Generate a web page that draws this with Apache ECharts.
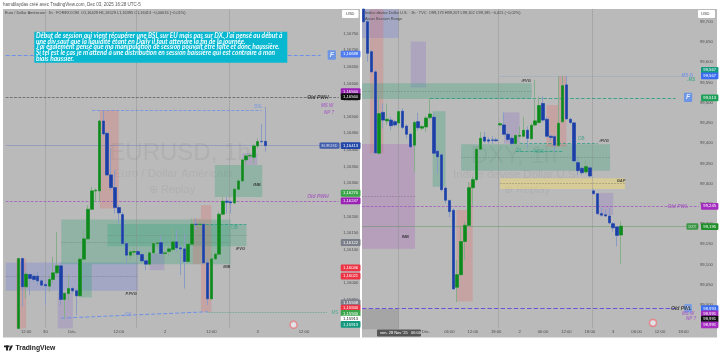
<!DOCTYPE html>
<html><head><meta charset="utf-8">
<style>html,body{margin:0;padding:0;background:#fff}#c{width:720px;height:357px;filter:blur(.4px)}</style>
<script src="https://cdn.jsdelivr.net/npm/echarts@6/dist/echarts.min.js"></script>
</head><body><div id="c"></div>
<script>
// [open, close, low, high]
const eurCandles=[[1.15864,1.16074,1.15862,1.16076],[1.16074,1.15989,1.15929,1.16076],[1.15989,1.16027,1.15954,1.16034],[1.16026,1.16014,1.15964,1.16029],[1.16021,1.16011,1.16004,1.16027],[1.16021,1.16007,1.15994,1.16034],[1.16007,1.15994,1.15989,1.16014],[1.15996,1.15992,1.15934,1.16004],[1.15991,1.16011,1.15974,1.16019],[1.16011,1.16031,1.15999,1.16079],[1.16031,1.16052,1.16024,1.16154],[1.16052,1.15951,1.15934,1.16061],[1.15951,1.15969,1.15894,1.15974],[1.15969,1.15984,1.15949,1.16024],[1.15984,1.15977,1.15969,1.15989],[1.15977,1.15962,1.15904,1.15984],[1.15962,1.16072,1.15959,1.16079],[1.16072,1.16133,1.16069,1.16159],[1.16133,1.16222,1.16129,1.16234],[1.16222,1.16277,1.16219,1.16289],[1.16277,1.16279,1.16244,1.16284],[1.16277,1.16487,1.16244,1.16489],[1.16487,1.16448,1.16444,1.1652],[1.1645,1.16325,1.16321,1.16454],[1.16325,1.16287,1.16279,1.16405],[1.16287,1.16227,1.16209,1.1634],[1.16227,1.16211,1.16179,1.16234],[1.16206,1.16119,1.16114,1.16214],[1.16119,1.16084,1.16064,1.16124],[1.16084,1.16094,1.16069,1.16099],[1.16093,1.16095,1.16079,1.16109],[1.16095,1.16086,1.16074,1.16099],[1.16086,1.16067,1.16064,1.16091],[1.16067,1.16057,1.16039,1.16071],[1.16057,1.16091,1.16054,1.16094],[1.16091,1.16119,1.16087,1.16124],[1.16119,1.16121,1.16104,1.16127],[1.16122,1.16089,1.16079,1.16141],[1.16089,1.16091,1.16074,1.16099],[1.16095,1.16103,1.16079,1.16114],[1.16101,1.16124,1.16094,1.16164],[1.16124,1.16106,1.16094,1.16159],[1.16106,1.16103,1.16024,1.16114],[1.16103,1.16065,1.15984,1.16149],[1.16065,1.16117,1.16061,1.16129],[1.16117,1.16177,1.16114,1.16194],[1.16177,1.16176,1.16159,1.16194],[1.16176,1.16177,1.16169,1.16184],[1.16177,1.16061,1.16057,1.16179],[1.16061,1.15953,1.15934,1.16074],[1.15953,1.16073,1.15949,1.16094],[1.16073,1.16087,1.16069,1.16094],[1.16087,1.16207,1.16084,1.16214],[1.16207,1.16246,1.16204,1.16259],[1.16246,1.16243,1.16209,1.16259],[1.16244,1.16241,1.16209,1.16249],[1.16241,1.16282,1.16239,1.16289],[1.16282,1.16307,1.16279,1.16314],[1.16307,1.1637,1.16304,1.16374],[1.1637,1.16382,1.16355,1.16386],[1.16382,1.16383,1.16375,1.1639],[1.16378,1.16412,1.1636,1.16418],[1.16412,1.16425,1.16405,1.16435],[1.16426,1.16425,1.1642,1.16478],[1.16426,1.16413,1.16395,1.16529]];
const dxyCandles=[[99.731,99.7,99.696,99.731],[99.7,99.622,99.601,99.704],[99.626,99.576,99.574,99.63],[99.576,99.376,99.375,99.581],[99.375,99.473,99.373,99.515],[99.476,99.457,99.436,99.498],[99.455,99.459,99.445,99.498],[99.457,99.443,99.432,99.465],[99.453,99.445,99.441,99.457],[99.45,99.478,99.436,99.482],[99.479,99.439,99.434,99.486],[99.442,99.422,99.412,99.447],[99.422,99.391,99.387,99.426],[99.395,99.451,99.329,99.455],[99.453,99.438,99.431,99.475],[99.437,99.441,99.432,99.445],[99.44,99.462,99.428,99.467],[99.463,99.472,99.459,99.513],[99.464,99.375,99.373,99.474],[99.38,99.366,99.325,99.385],[99.371,99.285,99.281,99.375],[99.289,99.259,99.251,99.292],[99.258,99.231,99.217,99.261],[99.234,99.04,99.037,99.239],[99.044,99.075,99.007,99.111],[99.075,99.157,99.072,99.193],[99.157,99.197,99.111,99.206],[99.197,99.29,99.193,99.304],[99.29,99.31,99.247,99.317],[99.31,99.385,99.306,99.391],[99.385,99.412,99.383,99.428],[99.415,99.405,99.401,99.428],[99.408,99.405,99.399,99.414],[99.408,99.407,99.398,99.417],[99.408,99.406,99.404,99.413],[99.445,99.448,99.444,99.451],[99.445,99.422,99.42,99.476],[99.422,99.409,99.406,99.426],[99.412,99.399,99.395,99.416],[99.399,99.419,99.395,99.422],[99.417,99.419,99.414,99.441],[99.417,99.432,99.414,99.465],[99.432,99.412,99.387,99.441],[99.411,99.444,99.408,99.449],[99.445,99.455,99.441,99.556],[99.451,99.493,99.447,99.515],[99.498,99.457,99.453,99.515],[99.459,99.417,99.414,99.465],[99.417,99.414,99.406,99.421],[99.416,99.395,99.379,99.42],[99.394,99.449,99.391,99.566],[99.453,99.542,99.45,99.566],[99.544,99.46,99.457,99.566],[99.459,99.451,99.447,99.463],[99.45,99.356,99.352,99.453],[99.352,99.332,99.321,99.366],[99.338,99.327,99.321,99.342],[99.329,99.342,99.324,99.358],[99.339,99.319,99.315,99.342],[99.282,99.275,99.273,99.287],[99.275,99.226,99.223,99.277],[99.226,99.222,99.218,99.239],[99.223,99.22,99.218,99.235],[99.22,99.203,99.2,99.24],[99.201,99.191,99.181,99.205],[99.193,99.172,99.145,99.195],[99.173,99.195,99.102,99.207]];
const eurFirstSlot=4, dxyFirstSlot=1;
const eurTimeTicks={6:'12:00',11:'30',18:'Déc.',30:'12:00',42:'2',54:'12:00',66:'3',78:'12:00'};
const dxyTimeTicks={17:'Déc.',23:'06:00',29:'12:00',35:'18:00',41:'2',47:'06:00',53:'12:00',59:'18:00',65:'3',71:'06:00',77:'12:00',83:'18:00'};
const GREEN='rgba(55,165,125,.32)',BLUE='rgba(90,110,225,.24)',PINK='rgba(230,105,105,.27)',PURP='rgba(120,85,205,.2)',MAUVE='rgba(170,90,190,.28)',YEL='rgba(250,225,110,.45)',GRAY='rgba(90,90,90,.22)';
// [slot from, slot to, price top, price bottom, colour]
const eurZones=[[.7,35,1.16062,1.15977,BLUE],[15.1,59,1.16191,1.16057,GREEN],[27.1,63.1,1.16178,1.16111,GREEN],[54.9,67.2,1.16355,1.16259,GREEN],[25.1,30,1.1652,1.16224,PINK],[3.4,6,1.16074,1.15864,PINK],[51.3,54,1.16234,1.15914,PINK],[49.2,51.3,1.16194,1.16057,PINK],[14.2,18.1,1.15974,1.15864,PURP],[20.1,23,1.16057,1.15957,GREEN],[38,41.8,1.16089,1.16039,PURP],[62,65.9,1.1639,1.16355,PURP]];
const dxyZones=[[.6,10,99.731,99.66,BLUE],[2.6,6.06,99.731,99.375,PINK],[13.1,17,99.651,99.538,PURP],[.6,44.1,99.548,99.509,GREEN],[.6,14.2,99.398,99.139,MAUVE],[18.7,22,99.479,99.292,GREEN],[26,64.2,99.397,99.332,GREEN],[36,68,99.313,99.287,YEL],[24.8,29,99.235,99.009,PINK],[27.8,29,99.304,99.235,PINK],[47.9,53,99.494,99.391,PINK],[50.9,53,99.566,99.494,PINK],[37,41,99.476,99.399,PURP],[61,65,99.277,99.222,PURP],[.6,10,98.99,98.94,GRAY]];
// [slot from, slot to, price from, price to, colour, type, width]
const eurLines=[[.7,82.3,1.16685,1.16685,'#6d90e8','dashed',1],[.7,87,1.16558,1.16558,'#555','dashed',.7],[23.1,67,1.1652,1.1652,'#6d90e8','dashed',.8],[.7,87,1.16413,1.16413,'rgba(90,115,190,.55)','solid',.7],[.7,87,1.16246,1.16246,'#a14fc0','dashed',.7],[53,84,1.15912,1.15912,'#55a58a','dotted',.8],[15.1,53,1.15895,1.15914,'#6d90e8','dashed',1],[50,63,1.16177,1.16177,'#2fa085','dashed',.8],[.7,35,1.16020,1.16020,'#7a7a8a','dashed',.5],[15.1,59,1.16124,1.16124,'#6f8a80','dashed',.5],[27.1,63.1,1.16144,1.16144,'#6f8a80','dashed',.5],[11,11,1.1682,1.15866,'#8c8c8c','dotted',.8],[34.6,34.6,1.1682,1.15866,'#8c8c8c','dotted',.8],[58.7,58.7,1.1682,1.15866,'#8c8c8c','dotted',.8]];
const dxyLines=[[36,83,99.566,99.566,'#8ea6c0','dotted',.8],[18,81,99.512,99.512,'#2fa085','dashed',.9],[41,61,99.399,99.399,'#2fa085','dashed',.8],[40,52,99.381,99.381,'#2fa085','dashed',.8],[.6,87,99.244,99.244,'#a14fc0','dashed',.7],[.6,87,99.194,99.194,'rgba(60,140,60,.5)','solid',.7],[.6,81,98.991,98.991,'#6d4fd8','dashed',1.1],[.6,44.1,99.528,99.528,'#6f8a80','dashed',.5],[.6,14.2,99.268,99.268,'#8a6a90','dashed',.5],[26,64.2,99.365,99.365,'#6f8a80','dashed',.5],[36,68,99.300,99.300,'#8a8560','dashed',.5],[10,10,99.731,98.943,'#8c8c8c','dotted',.8],[35.6,35.6,99.731,98.943,'#8c8c8c','dotted',.8],[59.6,59.6,99.731,98.943,'#8c8c8c','dotted',.8]];
// [slot, price, text, colour, bold italic?, size, background]
const eurNotes=[[66.2,1.1653,'BSL','#6d90e8',0,4.5],[81.6,1.16558,'Old PWH','#222',1,5],[84,1.16533,'MS W','#a657c8',1,4.5],[84.5,1.16512,'NP ?','#a657c8',1,4.5],[81.6,1.1626,'Old PWH','#a14fc0',1,5],[86,1.15912,'MS','#3aa58a',0,4.5],[32.5,1.15905,'DX','#6d90e8',0,4.5],[65.8,1.16296,'IMB','#222',1,4],[33.2,1.15969,'P.FVG','#222',1,4],[58,1.16049,'IMB','#222',1,4],[61.5,1.16102,'iFVG','#222',1,4],[60,1.16166,'OB','#2fa085',0,4.5],[84.6,1.16413,'EURUSD','#fff',0,3.8,'#2347a8'],[85.2,1.16685,'F','#fff',1,7,'#5a8cf0']];
const dxyNotes=[[42.7,99.553,'iFVG','#222',1,4],[11.7,99.168,'IMB','#222',1,4],[56.8,99.41,'OB','#2fa085',0,4.5],[62.7,99.405,'iFVG','#222',1,4],[41,99.381,'DL','#2fa085',0,4.5],[46,99.379,'MSS','#2fa085',0,4.5],[67,99.306,'GAP','#222',1,4],[84,99.566,'MS-D','#6d90e8',1,4.5],[85,99.556,'.MS','#3aa58a',1,4.5],[81.6,99.244,'Old PWL','#a14fc0',1,5],[85.3,99.194,'DXY','#fff',0,3.8,'#1e8f2a'],[84.2,99.513,'F','#fff',1,7,'#5a8cf0'],[84.2,98.992,'F','#fff',1,6,'#6a98f0'],[82.5,98.99,'Old PWL','#222',1,5],[84.2,98.979,'MS W','#a657c8',1,4.5],[85,98.965,'NP ?','#a657c8',1,4.5]];
// [price position, text, fill, text colour]
const eurTags=[[1.16688,'1,16688','#4f7df0','#fff'],[1.16575,'1,16560','#9a22b5','#fff'],[1.1656,'1,16560','#111','#fff'],[1.1627,'1,16270','#3ca64a','#fff'],[1.16247,'1,16247','#9a22b5','#fff'],[1.16122,'1,16122','#7b7f8a','#fff'],[1.16046,'1,16046','#ee3344','#fff'],[1.16021,'1,16021','#ee3344','#fff'],[1.15941,'1,15948','#7b7f8a','#fff'],[1.15925,'1,15940','#ee3344','#fff'],[1.15909,'1,15940','#3ca64a','#fff'],[1.15892,'1,15913','#fff','#222'],[1.15876,'1,15913','#14997f','#fff'],[1.16413,'1,16413','#2347a8','#fff']];
const dxyTags=[[99.58,'99,567','#14997f','#fff'],[99.566,'99,567','#3a6cf0','#fff'],[99.512,'99,513','#1f9f5a','#fff'],[99.244,'99,245','#a52cc0','#fff'],[99.194,'99,195','#1e8f2a','#fff'],[98.991,'98,993','#3a6cf0','#fff'],[98.978,'98,991','#a52cc0','#fff'],[98.965,'98,991','#111','#fff'],[98.951,'98,991','#a52cc0','#fff']];
const eurFlag=[75.3,1.15875], dxyFlag=[75.2,98.956];
const calloutLines=["Début de session qui vient récupérer une BSL sur EU mais pas sur DX. J'ai pensé au début à","une div sauf que la liquidité étant en Daily il faut attendre la fin de la journée.","J'ai également pensé que ma manipulation de session pouvait être faite et donc haussière.","Si tel est le cas je m'attend à une distribution en session baissière qui est contraire à mon","biais haussier."];

const UP='#0c8a1c',DOWN='#1b3fa6',BG='#bababa',FONT='"Liberation Sans",sans-serif';
const wick=(c,first)=>c.map((d,i)=>[first+i,d[0],d[1],d[2],d[3]]);
const body=(c,first)=>c.map((d,i)=>[first+i,d[0],d[1],Math.min(d[0],d[1]),Math.max(d[0],d[1])]);
function panel(idx,candles,first,zones,lines,notes,tags,flag){
  const enc={x:0,y:[1,2,3,4]};
  return [
   {type:'candlestick',xAxisIndex:idx,yAxisIndex:idx,data:wick(candles,first),encode:enc,barWidth:3,silent:true,z:2,
    itemStyle:{color:'transparent',color0:'transparent',borderColor:'#86ae8b',borderColor0:'#8a9cc4',borderColorDoji:'#555',borderWidth:1},
    markArea:{silent:true,z:1,data:zones.map(z=>[{xAxis:z[0],yAxis:z[2],itemStyle:{color:z[4],borderWidth:0}},{xAxis:z[1],yAxis:z[3]}])},
    markLine:{silent:true,symbol:'none',z:1,precision:5,animation:false,data:
      lines.map(l=>[{coord:[l[0],l[2]],lineStyle:{color:l[4],type:l[5],width:l[6]},label:{show:false}},{coord:[l[1],l[3]]}])
      .concat(tags.map(t=>({yAxis:t[0],lineStyle:{color:'transparent',width:0},label:{show:true,position:'end',distance:2,formatter:t[1],fontSize:4.2,fontFamily:FONT,color:t[3],backgroundColor:t[2],padding:[1.4,2.3],borderRadius:1}})))}
   },
   {type:'candlestick',xAxisIndex:idx,yAxisIndex:idx,data:body(candles,first),encode:enc,barWidth:3,silent:true,z:3,
    itemStyle:{color:UP,color0:DOWN,borderColor:UP,borderColor0:DOWN,borderColorDoji:'#333',borderWidth:.5}},
   {type:'scatter',xAxisIndex:idx,yAxisIndex:idx,symbolSize:0,silent:true,z:6,clip:false,
    data:notes.map(n=>({value:[n[0],n[1]],label:{show:true,position:'inside',formatter:n[2],color:n[3],fontWeight:n[4]?'bold':'normal',fontStyle:n[4]?'italic':'normal',fontSize:n[5],fontFamily:FONT,backgroundColor:n[6]||'transparent',padding:n[6]?[1.2,2]:0,borderRadius:n[6]?1:0}}))},
   {type:'scatter',xAxisIndex:idx,yAxisIndex:idx,symbol:'circle',symbolSize:7,silent:true,z:6,data:[flag],
    itemStyle:{color:'#e9eef4',borderColor:'#e87a80',borderWidth:1.6}}
  ];
}
const xAxis=(gi,ticks,margin)=>({type:'value',gridIndex:gi,min:0,max:87,interval:1,axisLine:{show:false},axisTick:{show:false},splitLine:{show:false},
  axisLabel:{show:true,margin,fontSize:4.2,color:'#4d4d4d',fontFamily:FONT,showMinLabel:true,showMaxLabel:true,formatter:v=>ticks[v]||''}});
const yAxis=(gi,min,max,interval,margin,digits,hide)=>({type:'value',gridIndex:gi,position:'right',min,max,interval,scale:true,axisLine:{show:false},axisTick:{show:false},splitLine:{show:false},
  axisLabel:{margin,fontSize:4.2,color:'#4d4d4d',fontFamily:FONT,formatter:v=>hide(v)?'':v.toFixed(digits).replace('.',',')}});
const t=(x,y,text,fs,color,extra)=>({type:'text',x,y,z:100,silent:true,style:Object.assign({text,font:`${fs}px ${FONT}`,fill:color,textVerticalAlign:'middle'},extra||{})});
const wm=(x,y,text,fs)=>({type:'text',x,y,z:-1,silent:true,style:{text,font:`${fs}px ${FONT}`,fill:'#b0b0b0',textAlign:'center',textVerticalAlign:'middle'}});
const graphic=[
 {type:'rect',z:-5,silent:true,shape:{x:3,y:9,width:357,height:328.5},style:{fill:BG}},
 {type:'rect',z:-5,silent:true,shape:{x:362,y:9,width:355,height:328.5},style:{fill:BG}},
 wm(180,153,'EURUSD, 1h',24),wm(173,173.5,'Euro / Dollar Américain',11.5),wm(172,190,'⊕ Replay',11),
 wm(514,156,'DXY, 1h',24),wm(516,174.5,'Indice devise Dollar U.S.',11.5),wm(527,190,'⊕ Replay',11),
 t(3,4.5,'hamdilaydas créé avec TradingView.com, Dec 03, 2025 16:28 UTC-5',4.5,'#555'),
 t(5,13,'Euro / Dollar Américain · 1h · FOREXCOM  O1,16429 H1,16529 L1,16395 C1,16413 −0,00016 (−0,01%)',3.9,'#444'),
 t(365,13,'Indice devise Dollar U.S. · 1h · TVC  O99,173 H99,207 L99,102 C99,195 −0,021 (−0,02%)',3.9,'#444'),
 t(365,18.7,'Asian Session Range',3.9,'#444'),
 {type:'rect',z:99,silent:true,shape:{x:34.3,y:31.7,width:253,height:31},style:{fill:'#08b8d0'}},
 ...calloutLines.map((s,i)=>t(36,35.7+i*5.85,s,6.5,'#eefcff',{font:`italic bold 6.5px Lato,${FONT}`})),
 {type:'rect',z:99,silent:true,shape:{x:342,y:10,width:16.5,height:8,r:1},style:{fill:'#fff'}},
 t(346,14,'USD',4,'#444'),
 {type:'rect',z:99,silent:true,shape:{x:698,y:10,width:17,height:8,r:1},style:{fill:'#fff'}},
 t(701,14,'USD',4,'#444'),
 {type:'rect',z:99,silent:true,shape:{x:377,y:329.5,width:44,height:7,r:1},style:{fill:'#555'}},
 t(380,333,"ven. 28 Nov '25   06:00",4,'#fff'),
 {type:'rect',z:99,silent:true,shape:{x:4,y:345.5,width:5.5,height:1.8},style:{fill:'#222'}},
 {type:'rect',z:99,silent:true,shape:{x:6,y:345.5,width:2,height:5},style:{fill:'#222'}},
 {type:'polygon',z:99,silent:true,shape:{points:[[8.7,350.5],[10.6,345.5],[13,345.5],[10.5,350.5]]},style:{fill:'#222'}},
 t(15.5,348,'TradingView',6.8,'#222',{font:`bold 6.8px ${FONT}`})
];
const chart=echarts.init(document.getElementById('c'),null,{renderer:'canvas'});
chart.setOption({animation:false,tooltip:{show:false},legend:{show:false},backgroundColor:'#fff',graphic:{elements:graphic},
 grid:[{left:.75,width:338,top:.1,height:333},{left:359.7,width:339.3,top:1.46,height:344.08}],
 xAxis:[xAxis(0,eurTimeTicks,-3),xAxis(1,dxyTimeTicks,-15.5)],
 yAxis:[yAxis(0,1.1585,1.1685,.0005,4.5,5,v=>v<1.1594||v>1.1679),yAxis(1,98.9,99.75,.05,1,3,v=>v<98.97||v>99.72)],
 series:[...panel(0,eurCandles,eurFirstSlot,eurZones,eurLines,eurNotes,eurTags,eurFlag),...panel(1,dxyCandles,dxyFirstSlot,dxyZones,dxyLines,dxyNotes,dxyTags,dxyFlag)]
});
</script></body></html>
